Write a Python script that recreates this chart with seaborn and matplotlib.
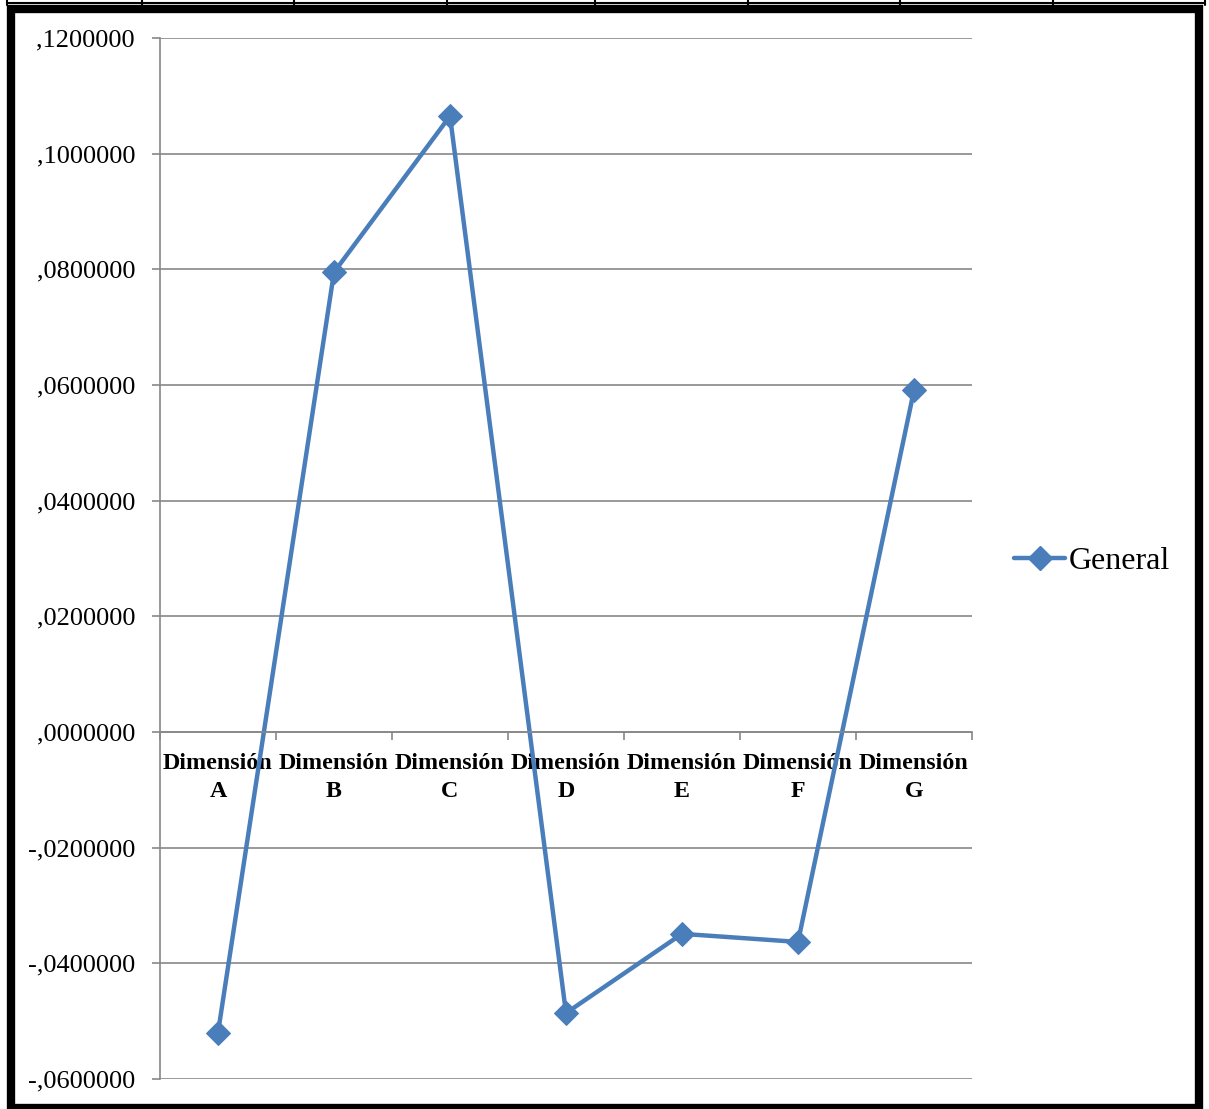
import numpy as np
import pandas as pd
import matplotlib
matplotlib.use("Agg")
import matplotlib.pyplot as plt
from matplotlib.ticker import FixedLocator, FixedFormatter, FuncFormatter, NullFormatter, MultipleLocator
from matplotlib.lines import Line2D
from matplotlib.patches import Rectangle
import seaborn as sns

# Data
categories = ["Dimensión\nA", "Dimensión\nB", "Dimensión\nC", "Dimensión\nD",
              "Dimensión\nE", "Dimensión\nF", "Dimensión\nG"]
general = [-0.0520, 0.0795, 0.1065, -0.0486, -0.0349, -0.0363, 0.0591]
series_name = "General"

sns.set_theme(style="white")
plt.rcParams["font.family"] = ["Liberation Serif", "DejaVu Serif"]
plt.rcParams["text.color"] = "black"
plt.rcParams["xtick.color"] = "black"
plt.rcParams["ytick.color"] = "black"
plt.rcParams["xtick.labelcolor"] = "black"
plt.rcParams["ytick.labelcolor"] = "black"

W, H = 1209, 1109
fig = plt.figure(figsize=(W / 100, H / 100), dpi=100)
ax = fig.add_axes([160 / W, 1 - 1079 / H, (972 - 160) / W, (1079 - 38) / H])

df = pd.DataFrame({"pos": np.arange(len(categories)), "value": general})
line_color = "#4a7ebb"
grid_color = "#888888"

sns.lineplot(data=df, x="pos", y="value", ax=ax, color=line_color, linewidth=3.2,
             marker="D", markersize=12, markeredgecolor=line_color,
             markerfacecolor=line_color, legend=False)

ax.set_xlim(-0.5, len(categories) - 0.5)
ax.set_ylim(-0.06, 0.12)
ax.set_xlabel("")
ax.set_ylabel("")

# y axis: gridlines every 0.02, labels like ,1200000
ax.yaxis.set_major_locator(MultipleLocator(0.02))

def fmt(v, _):
    s = f"{abs(v):.7f}"
    s = s[1:].replace(".", ",")
    return ("-" + s) if v < -1e-12 else s

ax.yaxis.set_major_formatter(FuncFormatter(fmt))
ax.yaxis.grid(True, color=grid_color, linewidth=1.2)
ax.xaxis.grid(False)
ax.tick_params(axis="y", which="major", length=6, width=1.2, color=grid_color,
               labelsize=19, pad=12, left=True, labelcolor="black")

# x axis sits on the zero line; ticks at category boundaries, labels centred
ax.spines["bottom"].set_position(("data", 0))
ax.spines["bottom"].set_color(grid_color)
ax.spines["bottom"].set_linewidth(1.2)
ax.spines["left"].set_color(grid_color)
ax.spines["left"].set_linewidth(1.2)
ax.spines["top"].set_visible(False)
ax.spines["right"].set_visible(False)

ax.xaxis.set_major_locator(FixedLocator(np.arange(-0.5, len(categories), 1.0)))
ax.xaxis.set_major_formatter(NullFormatter())
ax.xaxis.set_minor_locator(FixedLocator(np.arange(len(categories))))
ax.xaxis.set_minor_formatter(FixedFormatter(categories))
ax.tick_params(axis="x", which="major", direction="out", length=6, width=1.2,
               color=grid_color, bottom=True)
ax.tick_params(axis="x", which="minor", length=0, pad=15, labelsize=17.3,
               bottom=True, labelcolor="black")

# Legend to the right of the plot
handle = Line2D([], [], color=line_color, linewidth=3.2, marker="D", markersize=12,
                markerfacecolor=line_color, markeredgecolor=line_color)
fig.legend([handle], [series_name], loc="center left",
           bbox_to_anchor=(998 / W, 1 - 561 / H), frameon=False,
           fontsize=23, handlelength=1.6, handletextpad=0.1, borderpad=0,
           labelcolor="black")

# Outer frame and the table row lines above it
fig.patches.append(Rectangle((11 / W, 1 - 1108 / H), (1199 - 11) / W, (1108 - 8.5) / H,
                             transform=fig.transFigure, fill=False,
                             edgecolor="black", linewidth=6, zorder=10))
fig.add_artist(Line2D([7 / W, 1205 / W], [1 - 3 / H, 1 - 3 / H],
                      transform=fig.transFigure, color="black", linewidth=1.5))
for xv in [7, 142, 294, 447, 595, 748, 900, 1053, 1205]:
    fig.add_artist(Line2D([xv / W, xv / W], [1 - 0 / H, 1 - 5 / H],
                          transform=fig.transFigure, color="black", linewidth=1.5))

# Bold two-line category labels with a wider line gap
fig.canvas.draw()
for lab in ax.xaxis.get_minorticklabels():
    lab.set_fontweight("bold")
    lab.set_linespacing(1.45)

fig.savefig("out.png", dpi=100)
